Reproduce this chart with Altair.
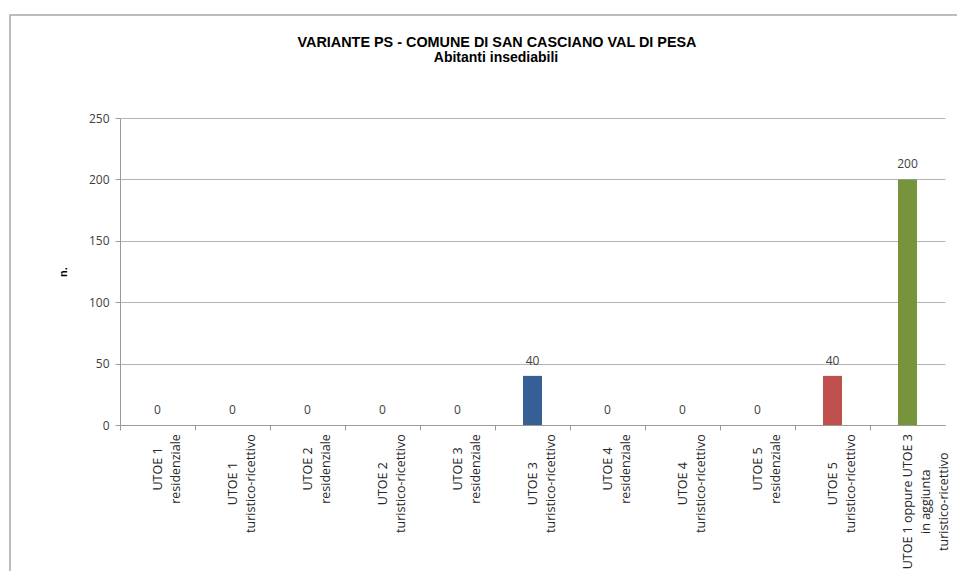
import altair as alt
import pandas as pd

# ---- data ----
label_lines = [
    ["UTOE 1", "residenziale"],
    ["UTOE 1", "turistico-ricettivo"],
    ["UTOE 2", "residenziale"],
    ["UTOE 2", "turistico-ricettivo"],
    ["UTOE 3", "residenziale"],
    ["UTOE 3", "turistico-ricettivo"],
    ["UTOE 4", "residenziale"],
    ["UTOE 4", "turistico-ricettivo"],
    ["UTOE 5", "residenziale"],
    ["UTOE 5", "turistico-ricettivo"],
    ["UTOE 1 oppure UTOE 3", "in aggiunta", "turistico-ricettivo"],
]
values = [0, 0, 0, 0, 0, 40, 0, 0, 0, 40, 200]
bar_colors = ["#365F96", "#365F96", "#365F96", "#365F96", "#365F96", "#365F96",
              "#365F96", "#365F96", "#365F96", "#C0504D", "#77933C"]
y_ticks = [0, 50, 100, 150, 200, 250]
title_lines = ["VARIANTE PS - COMUNE DI SAN CASCIANO VAL DI PESA", "Abitanti insediabili"]

# ---- layout ----
W, H = 825, 307
LABEL_FONT = "Open Sans"
LABEL_SIZE = 12.5

# approximate Open Sans advance widths (em) to centre multi-line rotated labels
_w = {" ": .26, "-": .322, "U": .733, "T": .551, "O": .782, "E": .55,
      "a": .556, "c": .479, "d": .613, "e": .561, "g": .537, "i": .258,
      "l": .258, "n": .613, "o": .602, "p": .613, "r": .411, "s": .479,
      "t": .361, "u": .613, "v": .501, "z": .47}


def text_len(s):
    return sum(_w.get(ch, .572 if ch.isdigit() else .55) for ch in s) * LABEL_SIZE


categories = ["\n".join(l) for l in label_lines]
df = pd.DataFrame({
    "cat": categories,
    "value": values,
    "lab_y": [H + 9 + max(text_len(s) for s in l) / 2 for l in label_lines],
})

xenc = alt.X("cat:N", sort=categories,
             scale=alt.Scale(paddingInner=0, paddingOuter=0),
             axis=alt.Axis(labels=False, title=None, bandPosition=0, tickSize=5,
                           domainColor="#9a9a9a", tickColor="#9a9a9a", grid=False))

bars = alt.Chart(df).mark_bar(size=19).encode(
    x=xenc,
    y=alt.Y("value:Q", scale=alt.Scale(domain=[0, 250], nice=False),
            axis=alt.Axis(values=y_ticks, title="n.", titleFontWeight="bold",
                          titleFontSize=11, titleFont="Liberation Sans",
                          titleColor="#000000", titlePadding=20,
                          labelFont=LABEL_FONT, labelFontSize=12,
                          labelColor="#404040", labelPadding=6, tickSize=5,
                          domainColor="#9a9a9a", tickColor="#9a9a9a",
                          gridColor="#b4b4b4")),
    color=alt.Color("cat:N", scale=alt.Scale(domain=categories, range=bar_colors),
                    legend=None),
)

value_labels = alt.Chart(df).mark_text(
    dy=-15, font=LABEL_FONT, fontSize=12, color="#404040", baseline="middle"
).encode(x=alt.X("cat:N", sort=categories), y="value:Q", text="value:Q")

cat_labels = alt.Chart(df).mark_text(
    angle=270, align="center", baseline="middle", lineBreak="\n", lineHeight=18,
    font=LABEL_FONT, fontSize=LABEL_SIZE, color="#262626"
).encode(x=alt.X("cat:N", sort=categories), y=alt.Y("lab_y:Q", scale=None),
         text="cat:N")

frame = alt.Chart(alt.Data(values=[{}])).mark_rect(
    fill=None, stroke="#a8a8a8", strokeWidth=1.5
).encode(x=alt.value(-110), x2=alt.value(842), y=alt.value(-103), y2=alt.value(480))

title_mark = alt.Chart(alt.Data(values=[{}])).mark_text(
    text=title_lines[0], font="Liberation Sans", fontSize=14.4, fontWeight="bold",
    color="#000000", align="center", baseline="middle"
).encode(x=alt.value(377), y=alt.value(-75))

subtitle_mark = alt.Chart(alt.Data(values=[{}])).mark_text(
    text=title_lines[1], font="Liberation Sans", fontSize=14, fontWeight="bold",
    color="#000000", align="center", baseline="middle"
).encode(x=alt.value(376), y=alt.value(-60))

chart = alt.layer(frame, title_mark, subtitle_mark, bars, value_labels, cat_labels).properties(
    width=W, height=H,
    autosize=alt.AutoSizeParams(type="none"),
    padding={"left": 112, "top": 110, "right": 12, "bottom": 146},
).configure_view(stroke=None)

chart.save("out.html", embed_options={"renderer": "svg", "actions": False})
